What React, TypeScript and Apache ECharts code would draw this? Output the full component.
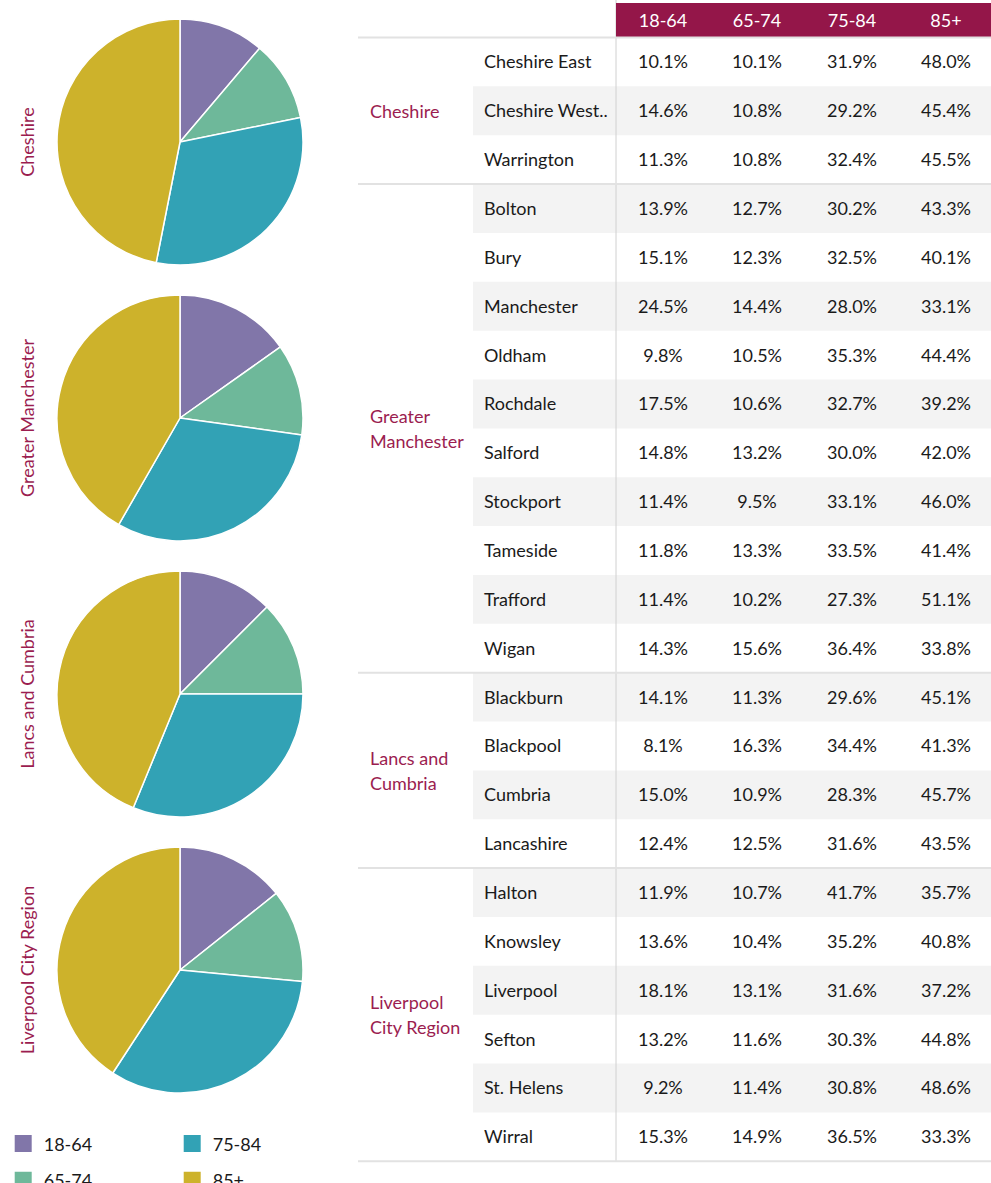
import React, { useEffect, useRef } from "react";
import * as echarts from "echarts";

const ageBands = ["18-64", "65-74", "75-84", "85+"];
const bandColors = ["#8176a9", "#6eb89a", "#32a2b5", "#cdb22b"];

const regions = ["Cheshire", "Greater Manchester", "Lancs and Cumbria", "Liverpool City Region"];
const regionTableLabels = ["Cheshire", "Greater\nManchester", "Lancs and\nCumbria", "Liverpool\nCity Region"];
const regionRowCounts = [3, 10, 4, 6];

// pie shares per region, order: 18-64, 65-74, 75-84, 85+
const pieCheshire = [11.2, 10.6, 31.3, 46.9];
const pieGreaterManchester = [15.2, 12.0, 31.1, 41.7];
const pieLancsCumbria = [12.5, 12.5, 31.2, 43.8];
const pieLiverpool = [14.3, 12.2, 32.7, 40.8];
const pieValues = [pieCheshire, pieGreaterManchester, pieLancsCumbria, pieLiverpool];

const areas = [
  "Cheshire East", "Cheshire West..", "Warrington",
  "Bolton", "Bury", "Manchester", "Oldham", "Rochdale", "Salford", "Stockport", "Tameside", "Trafford", "Wigan",
  "Blackburn", "Blackpool", "Cumbria", "Lancashire",
  "Halton", "Knowsley", "Liverpool", "Sefton", "St. Helens", "Wirral",
];
const pct1864 = [10.1, 14.6, 11.3, 13.9, 15.1, 24.5, 9.8, 17.5, 14.8, 11.4, 11.8, 11.4, 14.3, 14.1, 8.1, 15.0, 12.4, 11.9, 13.6, 18.1, 13.2, 9.2, 15.3];
const pct6574 = [10.1, 10.8, 10.8, 12.7, 12.3, 14.4, 10.5, 10.6, 13.2, 9.5, 13.3, 10.2, 15.6, 11.3, 16.3, 10.9, 12.5, 10.7, 10.4, 13.1, 11.6, 11.4, 14.9];
const pct7584 = [31.9, 29.2, 32.4, 30.2, 32.5, 28.0, 35.3, 32.7, 30.0, 33.1, 33.5, 27.3, 36.4, 29.6, 34.4, 28.3, 31.6, 41.7, 35.2, 31.6, 30.3, 30.8, 36.5];
const pct85 = [48.0, 45.4, 45.5, 43.3, 40.1, 33.1, 44.4, 39.2, 42.0, 46.0, 41.4, 51.1, 33.8, 45.1, 41.3, 45.7, 43.5, 35.7, 40.8, 37.2, 44.8, 48.6, 33.3];
const tableColumns = [pct1864, pct6574, pct7584, pct85];

const W = 991;
const H = 1183;
const FONT = "Lato";
const FS = 18;
const CRIMSON = "#941649";
const LABEL_RED = "#9b1d50";
const TEXT = "#1a1a1a";

function buildOption() {
  const pieCx = 180;
  const pieCy0 = 142;
  const pieStep = 276;
  const pieR = 123;

  const series = regions.map((r, k) => ({
    type: "pie",
    name: r,
    center: [pieCx, pieCy0 + pieStep * k],
    radius: pieR,
    startAngle: 90,
    clockwise: true,
    label: { show: false },
    labelLine: { show: false },
    emphasis: { disabled: true },
    itemStyle: { borderColor: "#ffffff", borderWidth: 1.5 },
    data: ageBands.map((b, i) => ({ name: b, value: pieValues[k][i] })),
  }));

  const g: any[] = [];
  // vertical region labels by pies
  regions.forEach((r, k) => {
    g.push({
      type: "text",
      x: 27,
      y: pieCy0 + pieStep * k,
      rotation: Math.PI / 2,
      style: {
        text: r,
        fill: LABEL_RED,
        font: `${FS}px ${FONT}`,
        align: "center",
        verticalAlign: "middle",
      },
    });
  });

  // table geometry
  const tableTop = 37.5;
  const rowH = 48.86;
  const nameX = 484;
  const groupX = 370;
  const divX = 616;
  const colCenters = [663, 757, 852, 946];
  const nRows = areas.length;
  const tableBottom = tableTop + nRows * rowH;

  // zebra shading
  areas.forEach((_, i) => {
    if (i % 2 === 1) {
      g.push({
        type: "rect",
        shape: { x: 473, y: tableTop + i * rowH, width: W - 473, height: rowH },
        style: { fill: "#f3f3f3" },
        silent: true,
      });
    }
  });

  // vertical divider
  g.push({
    type: "line",
    shape: { x1: divX, y1: 0, x2: divX, y2: tableBottom },
    style: { stroke: "#d0d0d0", lineWidth: 1 },
    silent: true,
  });

  // header
  g.push({
    type: "rect",
    shape: { x: divX, y: 3, width: W - divX, height: 34 },
    style: { fill: CRIMSON },
    silent: true,
  });
  ageBands.forEach((b, c) => {
    g.push({
      type: "text",
      x: colCenters[c],
      y: 20,
      style: { text: b, fill: "#ffffff", font: `${FS}px ${FONT}`, align: "center", verticalAlign: "middle" },
    });
  });

  // separators
  const sepRows = [0];
  let acc = 0;
  regionRowCounts.forEach((n) => {
    acc += n;
    sepRows.push(acc);
  });
  sepRows.forEach((ri) => {
    const y = tableTop + ri * rowH;
    g.push({
      type: "line",
      shape: { x1: 358, y1: y, x2: W, y2: y },
      style: { stroke: "#e2e2e2", lineWidth: 2 },
      silent: true,
    });
  });

  // group labels
  let start = 0;
  regionRowCounts.forEach((n, k) => {
    const cy = tableTop + (start + n / 2) * rowH;
    g.push({
      type: "text",
      x: groupX,
      y: cy,
      style: {
        text: regionTableLabels[k],
        fill: LABEL_RED,
        font: `${FS}px ${FONT}`,
        lineHeight: 25,
        align: "left",
        verticalAlign: "middle",
      },
    });
    start += n;
  });

  // rows
  areas.forEach((a, i) => {
    const cy = tableTop + (i + 0.5) * rowH - 0.5;
    g.push({
      type: "text",
      x: nameX,
      y: cy,
      style: {
        text: a,
        fill: TEXT,
        font: `${FS}px ${FONT}`,
        align: "left",
        verticalAlign: "middle",
      },
    });
    tableColumns.forEach((col, c) => {
      g.push({
        type: "text",
        x: colCenters[c],
        y: cy,
        style: {
          text: col[i].toFixed(1) + "%",
          fill: TEXT,
          font: `${FS}px ${FONT}`,
          align: "center",
          verticalAlign: "middle",
        },
      });
    });
  });

  const legendCommon = {
    orient: "vertical",
    icon: "rect",
    itemWidth: 19,
    itemHeight: 19,
    itemGap: 15.7,
    top: 1133,
    height: 80,
    padding: 0,
    selectedMode: false,
    textStyle: { fontFamily: FONT, fontSize: FS, color: TEXT, lineHeight: 19, padding: [0, 0, 0, 6] },
  };

  return {
    animation: false,
    color: bandColors,
    textStyle: { fontFamily: FONT },
    legend: [
      { ...legendCommon, left: 12.7, data: [ageBands[0], ageBands[1]] },
      { ...legendCommon, left: 181.7, data: [ageBands[2], ageBands[3]] },
    ],
    series,
    graphic: { elements: g },
  };
}

export default function App() {
  const ref = useRef<HTMLDivElement>(null);
  useEffect(() => {
    document.body.style.margin = "0";
    if (!ref.current) return;
    const chart = echarts.init(ref.current, null, { renderer: "svg" });
    chart.setOption(buildOption() as any);
    return () => chart.dispose();
  }, []);
  return <div ref={ref} style={{ width: W, height: H, background: "#ffffff" }} />;
}
